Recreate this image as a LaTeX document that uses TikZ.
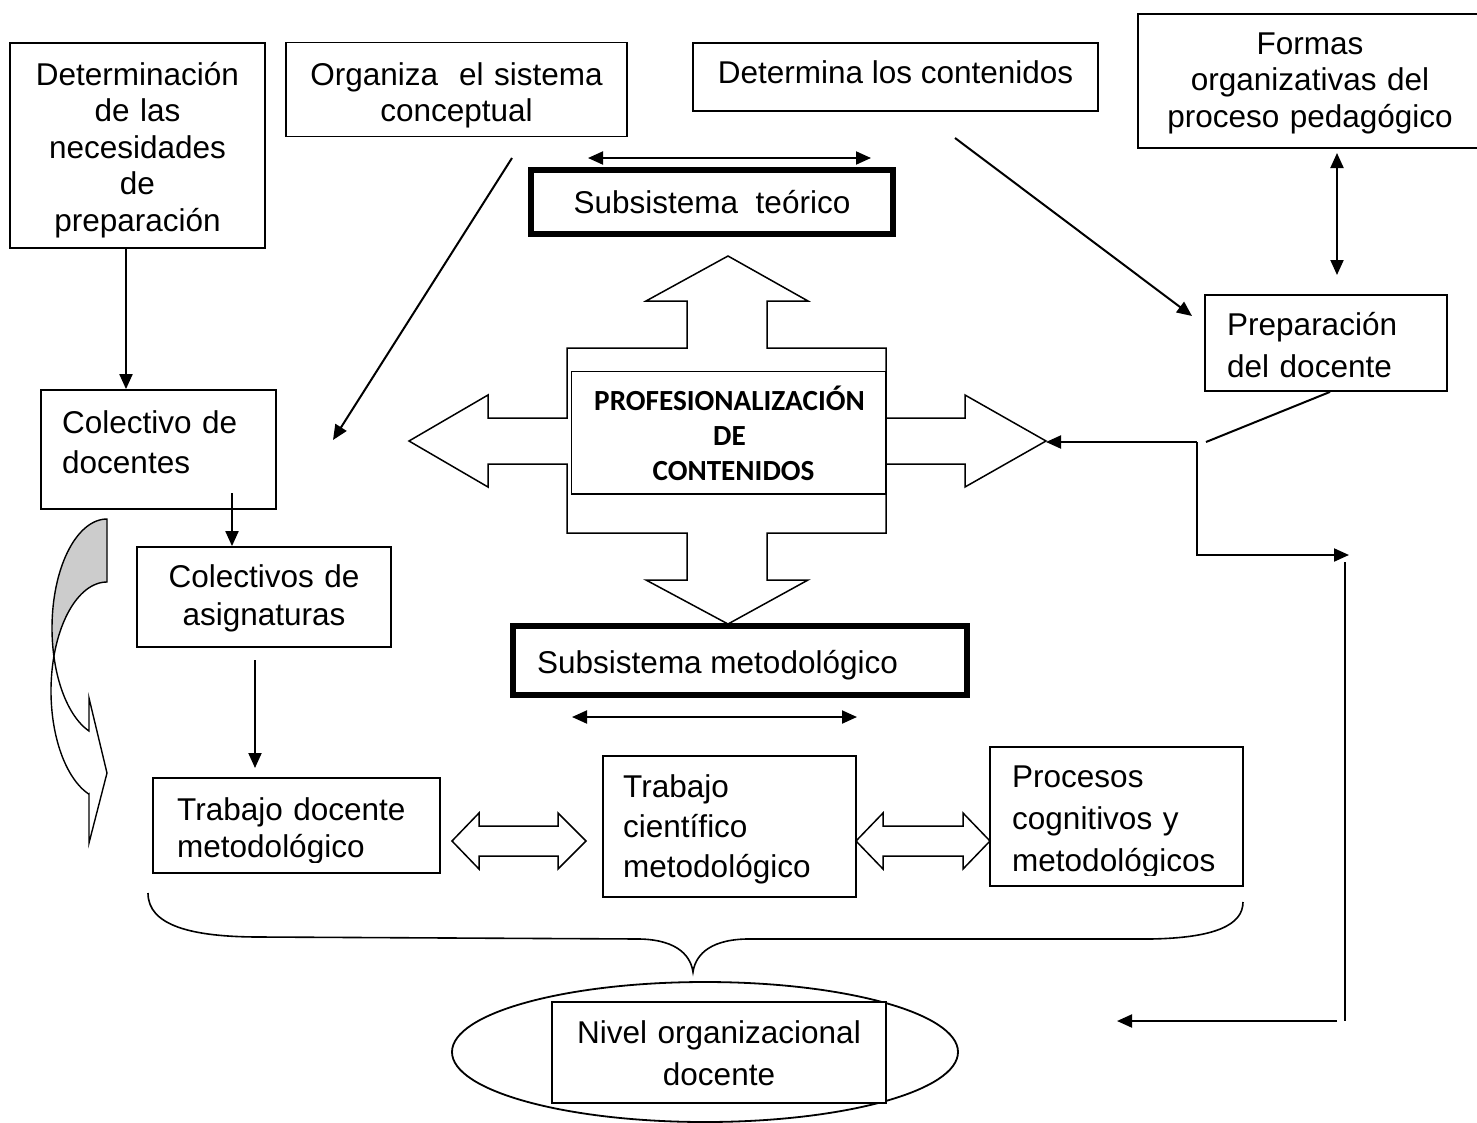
\documentclass[tikz,border=0pt]{standalone}
\usepackage{fontspec}
\setmainfont{Liberation Sans}
\newfontfamily\calibri{Carlito}
\usetikzlibrary{arrows.meta,shapes.geometric}
\begin{document}
\begin{tikzpicture}[x=1pt,y=-1pt,
  box/.style={draw, line width=1.8pt, inner sep=0pt, rectangle},
  thickbox/.style={draw, line width=6pt, inner sep=0pt, rectangle},
  txt/.style={inner sep=0pt, font=\fontsize{31.5}{#1}\selectfont},
  txt/.default=37,
  conn/.style={line width=2pt},
  arr/.style={conn, -{Triangle[length=15pt,width=13pt]}},
  darr/.style={conn, {Triangle[length=15pt,width=13pt]}-{Triangle[length=15pt,width=13pt]}},
  hollow/.style={line width=1.5pt, fill=white, line join=miter},
  proftxt/.style={inner sep=0pt, font=\calibri\bfseries\fontsize{29.2}{35}\selectfont}
]
\useasboundingbox (0,0) rectangle (1477,1122);
\clip (0,0) rectangle (1477,1122);

% ---------- boxes ----------
\node[box, minimum width=255pt, minimum height=205pt] (det) at (137.5,145.5) {};
\node[txt=36.5, text width=255pt, align=center, anchor=base] (detT) at (137.5,85)
  {Determinación\\de las\\necesidades\\de\\preparación};

\node[box, minimum width=341pt, minimum height=94pt] (org) at (456.5,89.5) {};
\node[txt=36.7, text width=341pt, align=center, anchor=base] (orgT) at (456.5,85)
  {Organiza\ \ el sistema\\conceptual};

\node[box, minimum width=405pt, minimum height=68pt] (detc) at (895.5,77) {};
\node[txt, anchor=base] (detcT) at (895.5,83) {Determina los contenidos};

\node[box, minimum width=344pt, minimum height=134pt] (formas) at (1310,81) {};
\node[txt=36.5, text width=344pt, align=center, anchor=base] (formasT) at (1310,54)
  {Formas\\organizativas del\\proceso pedagógico};

\node[thickbox, minimum width=362pt, minimum height=64pt] (teo) at (712,202) {};
\node[txt, anchor=base] (teoT) at (712,213) {Subsistema\ \ teórico};

\node[box, minimum width=235pt, minimum height=119pt] (col) at (158.5,449.5) {};
\node[txt=40, text width=210pt, align=left, anchor=base west] (colT) at (62,433)
  {Colectivo de\\docentes};

\node[box, minimum width=254pt, minimum height=100pt] (asig) at (264,597) {};
\node[txt=38, text width=254pt, align=center, anchor=base] (asigT) at (264,587)
  {Colectivos de\\asignaturas};

\node[box, minimum width=242pt, minimum height=96pt] (prep) at (1326,343) {};
\node[txt=42, text width=215pt, align=left, anchor=base west] (prepT) at (1227,335)
  {Preparación\\del docente};

% ---------- central cross ----------
\draw[hollow] (728,256) -- (808,301) -- (767,301) -- (767,348) -- (886,348) -- (886,418)
  -- (965,418) -- (965,395) -- (1046,441) -- (965,487) -- (965,464) -- (886,464)
  -- (886,533) -- (767,533) -- (767,580) -- (808,580) -- (728,624) -- (646,580)
  -- (687,580) -- (687,533) -- (567,533) -- (567,464) -- (488,464) -- (488,487)
  -- (409,441) -- (488,395) -- (488,418) -- (567,418) -- (567,348) -- (687,348)
  -- (687,301) -- (646,301) -- cycle;
\node[box, fill=white, minimum width=314.5pt, minimum height=122.5pt] (prof) at (728.75,432.75) {};
\node[proftxt, text width=310pt, align=center, anchor=base] (profT) at (729.5,410)
  {PROFESIONALIZACIÓN\\DE\\\hspace*{8pt}CONTENIDOS};

\node[thickbox, minimum width=454pt, minimum height=69pt] (met) at (740,660.5) {};
\node[txt, anchor=base west] (metT) at (537,673) {Subsistema metodológico};

% ---------- bottom row ----------
\node[box, minimum width=287pt, minimum height=95pt] (tdm) at (296.5,825.5) {};
\begin{scope}
  \clip (153,778) rectangle (440,862);
  \node[txt=37, text width=260pt, align=left, anchor=base west] (tdmT) at (177,820)
    {Trabajo docente\\metodológico};
\end{scope}

\node[box, minimum width=253pt, minimum height=141pt] (tcm) at (729.5,826.5) {};
\node[txt=40, text width=225pt, align=left, anchor=base west] (tcmT) at (623,797)
  {Trabajo\\científico\\metodológico};

\node[box, minimum width=253pt, minimum height=139pt] (proc) at (1116.5,816.5) {};
\begin{scope}
  \clip (990,747) rectangle (1243,875);
  \node[txt=42, text width=228pt, align=left, anchor=base west] (procT) at (1012,787)
    {Procesos\\cognitivos y\\metodológicos};
\end{scope}

% hollow double arrows
\draw[hollow] (452,841) -- (479,813) -- (479,826) -- (558,826) -- (558,813) -- (586,841)
  -- (558,869) -- (558,856) -- (479,856) -- (479,869) -- cycle;
\draw[hollow] (856,841) -- (883,813) -- (883,826) -- (963,826) -- (963,813) -- (990,841)
  -- (963,869) -- (963,856) -- (883,856) -- (883,869) -- cycle;

% brace
\draw[line width=1.6pt] (148,893) .. controls (148,925) and (190,937) .. (260,937)
  -- (640,939) .. controls (680,940) and (691,958) .. (693,972)
  .. controls (695,958) and (706,940) .. (746,939)
  -- (1150,939) .. controls (1215,938) and (1243,925) .. (1243,902);

% ellipse and final box
\node[draw, ellipse, line width=1.8pt, inner sep=0pt, minimum width=506pt, minimum height=140pt] (ell) at (705,1052) {};
\node[box, fill=white, minimum width=334pt, minimum height=101pt] (niv) at (719,1052.5) {};
\node[txt=42, text width=334pt, align=center, anchor=base] (nivT) at (719,1043)
  {Nivel organizacional\\docente};

% ---------- curved arrow on the left ----------
\filldraw[line width=1.4pt, fill=black!20]
  plot[domain=270:164.6, samples=40] ({107+55*cos(\x)},{628+109*sin(\x)})
  -- plot[domain=198.2:270, samples=30] ({107+56*cos(\x)},{691+109*sin(\x)})
  -- cycle;
\filldraw[line width=1.4pt, fill=white]
  plot[domain=164.6:109.1, samples=30] ({107+55*cos(\x)},{628+109*sin(\x)})
  -- (89,698) -- (107,773) -- (89,843) -- (89,794)
  -- plot[domain=108.9:198.2, samples=40] ({107+56*cos(\x)},{691+109*sin(\x)})
  -- cycle;

% ---------- connectors ----------
\coordinate (c1x) at (126,300);
\draw[arr] (det.south -| c1x) -- (col.north -| c1x);
\coordinate (c2s) at (232,493);
\draw[arr] (c2s) -- (c2s |- asig.north);
\coordinate (c3s) at (255,660);
\coordinate (c3e) at (255,768);
\draw[arr] (c3s) -- (c3e);
\coordinate (c4s) at (512,158);
\coordinate (c4e) at (333,440);
\draw[arr] (c4s) -- (c4e);
\coordinate (c5s) at (955,138);
\coordinate (c5e) at (1192,316);
\draw[arr] (c5s) -- (c5e);
\coordinate (c6s) at (1337,153);
\coordinate (c6e) at (1337,275);
\draw[darr] (c6s) -- (c6e);
\coordinate (c7s) at (588,158);
\coordinate (c7e) at (871,158);
\draw[darr] (c7s) -- (c7e);
\coordinate (c8s) at (572,717);
\coordinate (c8e) at (857,717);
\draw[darr] (c8s) -- (c8e);
\coordinate (jn) at (1206,442);
\draw[conn] ([xshift=4pt]prep.south) -- (jn);
\coordinate (jc) at (1197,442);
\coordinate (crossR) at (1046,442);
\draw[arr] (jc) -- (crossR);
\coordinate (c11e) at (1349,555);
\draw[arr] (jc) -- (jc |- c11e) -- (c11e);
\coordinate (c12s) at (1345,562);
\coordinate (c12e) at (1345,1021);
\draw[conn] (c12s) -- (c12e);
\coordinate (c13s) at (1337,1021);
\coordinate (c13e) at (1117,1021);
\draw[arr] (c13s) -- (c13e);
\end{tikzpicture}
\end{document}
